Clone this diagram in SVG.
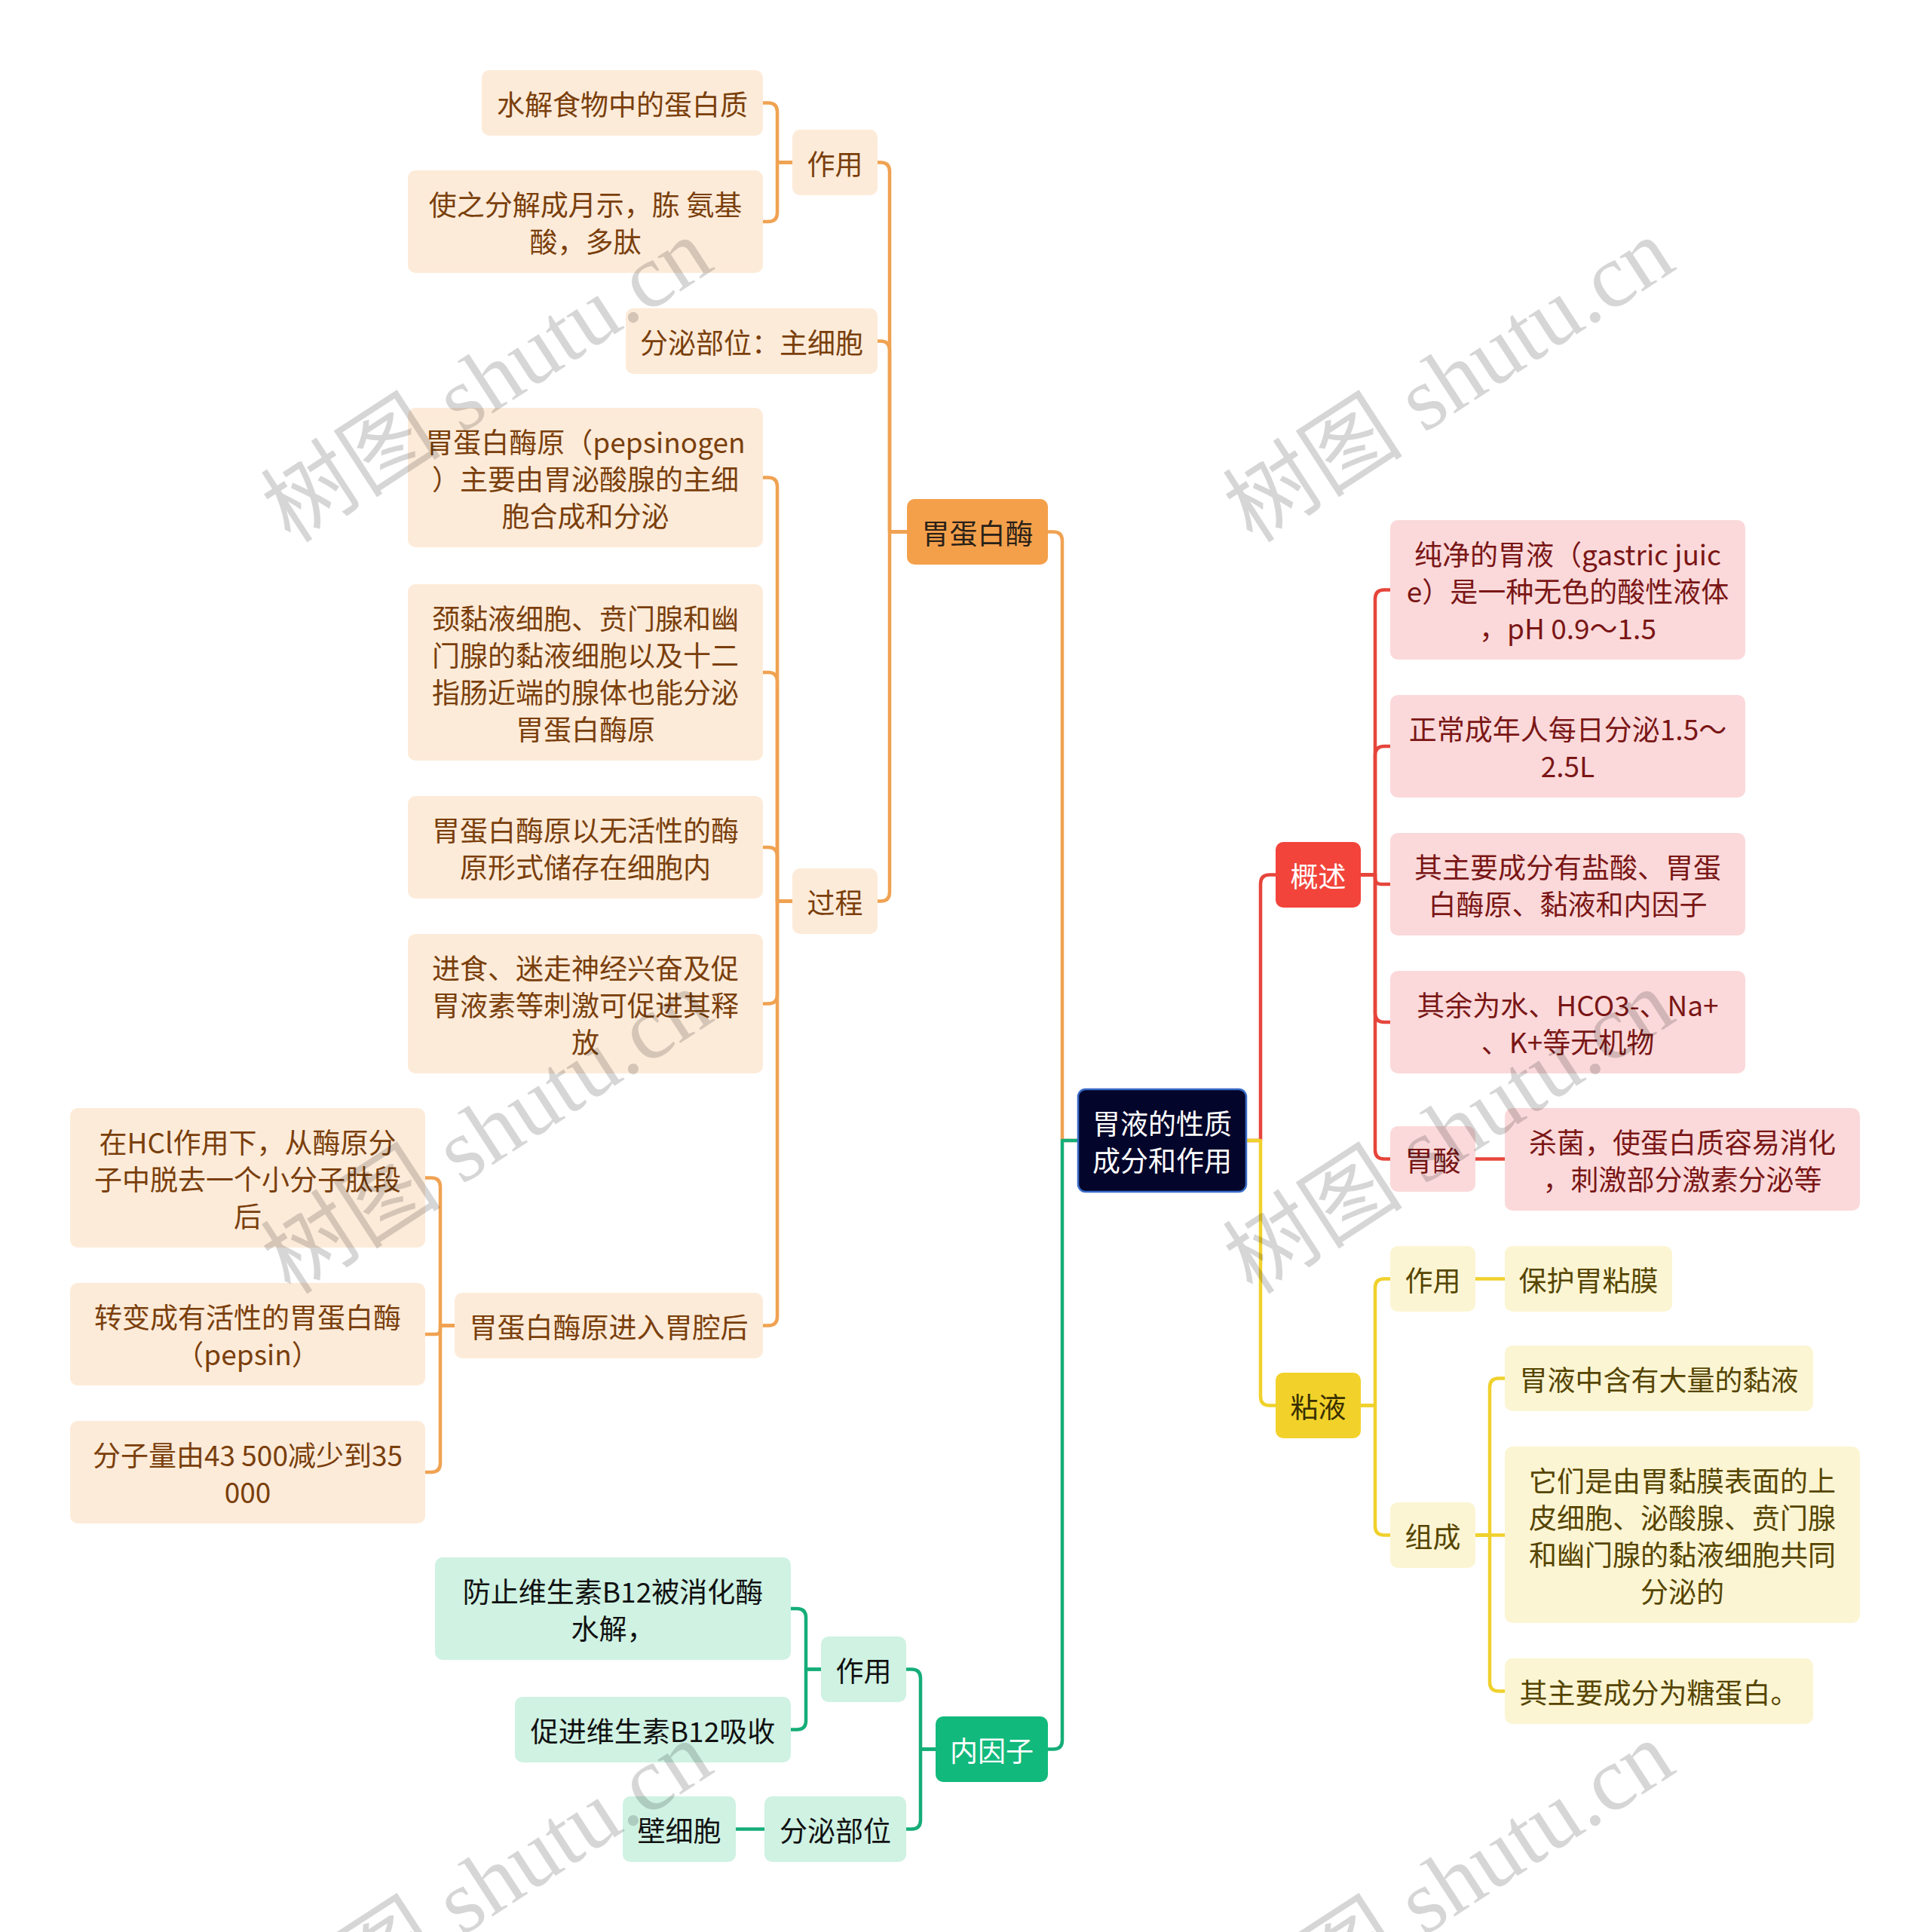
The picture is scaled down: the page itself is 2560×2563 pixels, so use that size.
<svg xmlns="http://www.w3.org/2000/svg" width="2560" height="2563" viewBox="0 0 2560 2563">
<style>
text{font-family:"Noto Sans CJK SC","Microsoft YaHei","Liberation Sans",sans-serif;font-size:37px;text-anchor:middle;dominant-baseline:central}
.c{fill:none;stroke-width:4.5;stroke-linecap:round;stroke-linejoin:round}
.co{stroke:#f0a252}.cr{stroke:#e6453b}.cy{stroke:#f0d12c}.cg{stroke:#15ad78}
.o1 rect{fill:#f4a04b}.o1 text{fill:#2a2118}
.o2 rect{fill:#fdebd9}.o2 text{fill:#7a3f0c}
.r1 rect{fill:#f2443b}.r1 text{fill:#ffffff}
.r2 rect{fill:#fbd9da}.r2 text{fill:#7a1616}
.y1 rect{fill:#f2d22a}.y1 text{fill:#3a3000}
.y2 rect{fill:#fcf5d3}.y2 text{fill:#564500}
.g1 rect{fill:#12b97c}.g1 text{fill:#ffffff}
.g2 rect{fill:#cff2e3}.g2 text{fill:#111111}
.root rect{fill:#04052b;stroke:#3a6cc8;stroke-width:2.5}.root text{fill:#ffffff}
.wm{font-family:"Liberation Serif","Noto Sans CJK SC",serif;font-size:120px;fill:#000000;fill-opacity:0.16}
</style>
<rect width="2560" height="2563" fill="#ffffff"/>
<g id="connectors">
<path class="c co" d="M1430 1513 H1409 V717.5 Q1409 705.5 1397 705.5 H1390"/>
<path class="c co" d="M1203 705.5 H1180 V227.5 Q1180 215.5 1168 215.5 H1164"/>
<path class="c co" d="M1203 705.5 H1180 V464.5 Q1180 452.5 1168 452.5 H1164"/>
<path class="c co" d="M1203 705.5 H1180 V1183.5 Q1180 1195.5 1168 1195.5 H1164"/>
<path class="c co" d="M1051 215.5 H1031 V148.5 Q1031 136.5 1019 136.5 H1012"/>
<path class="c co" d="M1051 215.5 H1031 V282 Q1031 294 1019 294 H1012"/>
<path class="c co" d="M1051 1195.5 H1031 V645.5 Q1031 633.5 1019 633.5 H1012"/>
<path class="c co" d="M1051 1195.5 H1031 V904 Q1031 892 1019 892 H1012"/>
<path class="c co" d="M1051 1195.5 H1031 V1136 Q1031 1124 1019 1124 H1012"/>
<path class="c co" d="M1051 1195.5 H1031 V1319.5 Q1031 1331.5 1019 1331.5 H1012"/>
<path class="c co" d="M1051 1195.5 H1031 V1746.5 Q1031 1758.5 1019 1758.5 H1012"/>
<path class="c co" d="M603 1758.5 H584 V1574.5 Q584 1562.5 572 1562.5 H564"/>
<path class="c co" d="M603 1758.5 H584 V1764 Q584 1770 578 1770 H564"/>
<path class="c co" d="M603 1758.5 H584 V1941 Q584 1953 572 1953 H564"/>
<path class="c cg" d="M1430 1513 H1409 V2308.5 Q1409 2320.5 1397 2320.5 H1390"/>
<path class="c cg" d="M1241 2320.5 H1221 V2226.5 Q1221 2214.5 1209 2214.5 H1202"/>
<path class="c cg" d="M1241 2320.5 H1221 V2414.5 Q1221 2426.5 1209 2426.5 H1202"/>
<path class="c cg" d="M1089 2214.5 H1069 V2146 Q1069 2134 1057 2134 H1049"/>
<path class="c cg" d="M1089 2214.5 H1069 V2282.5 Q1069 2294.5 1057 2294.5 H1049"/>
<path class="c cg" d="M1014 2426.5 H976"/>
<path class="c cr" d="M1653 1513 H1672 V1172.5 Q1672 1160.5 1684 1160.5 H1692"/>
<path class="c cr" d="M1805 1160.5 H1824 V794.5 Q1824 782.5 1836 782.5 H1844"/>
<path class="c cr" d="M1805 1160.5 H1824 V1002 Q1824 990 1836 990 H1844"/>
<path class="c cr" d="M1805 1160.5 H1824 V1165 Q1824 1173 1832 1173 H1844"/>
<path class="c cr" d="M1805 1160.5 H1824 V1344 Q1824 1356 1836 1356 H1844"/>
<path class="c cr" d="M1805 1160.5 H1824 V1525.5 Q1824 1537.5 1836 1537.5 H1844"/>
<path class="c cr" d="M1957 1537.5 H1996"/>
<path class="c cy" d="M1653 1513 H1672 V1852.5 Q1672 1864.5 1684 1864.5 H1692"/>
<path class="c cy" d="M1805 1864.5 H1824 V1708.5 Q1824 1696.5 1836 1696.5 H1844"/>
<path class="c cy" d="M1805 1864.5 H1824 V2024.5 Q1824 2036.5 1836 2036.5 H1844"/>
<path class="c cy" d="M1957 1696.5 H1996"/>
<path class="c cy" d="M1957 2036.5 H1976 V1840.5 Q1976 1828.5 1988 1828.5 H1996"/>
<path class="c cy" d="M1957 2036.5 H1996"/>
<path class="c cy" d="M1957 2036.5 H1976 V2231.5 Q1976 2243.5 1988 2243.5 H1996"/>
</g>
<g id="n-root" class="root"><rect x="1430" y="1445" width="223" height="136" rx="10"/><text><tspan x="1541.5" y="1488.5">胃液的性质</tspan><tspan x="1541.5" y="1537.5">成分和作用</tspan></text></g>
<g id="n-pepsin" class="o1"><rect x="1203" y="662" width="187" height="87" rx="10"/><text x="1296.5" y="705.5">胃蛋白酶</text></g>
<g id="n-p-zuoyong" class="o2"><rect x="1051" y="172" width="113" height="87" rx="10"/><text x="1107.5" y="215.5">作用</text></g>
<g id="n-p-shuijie" class="o2"><rect x="639" y="93" width="373" height="87" rx="10"/><text x="825.5" y="136.5">水解食物中的蛋白质</text></g>
<g id="n-p-fenjie" class="o2"><rect x="541" y="226" width="471" height="136" rx="10"/><text><tspan x="776.5" y="269.5">使之分解成月示，胨 氨基</tspan><tspan x="776.5" y="318.5">酸，多肽</tspan></text></g>
<g id="n-p-fenmi" class="o2"><rect x="830" y="409" width="334" height="87" rx="10"/><text x="997" y="452.5">分泌部位：主细胞</text></g>
<g id="n-p-guocheng" class="o2"><rect x="1051" y="1152" width="113" height="87" rx="10"/><text x="1107.5" y="1195.5">过程</text></g>
<g id="n-p-pepsinogen" class="o2"><rect x="541" y="541" width="471" height="185" rx="10"/><text><tspan x="776.5" y="584.5">胃蛋白酶原（pepsinogen</tspan><tspan x="776.5" y="633.5">）主要由胃泌酸腺的主细</tspan><tspan x="776.5" y="682.5">胞合成和分泌</tspan></text></g>
<g id="n-p-jing" class="o2"><rect x="541" y="775" width="471" height="234" rx="10"/><text><tspan x="776.5" y="818.5">颈黏液细胞、贲门腺和幽</tspan><tspan x="776.5" y="867.5">门腺的黏液细胞以及十二</tspan><tspan x="776.5" y="916.5">指肠近端的腺体也能分泌</tspan><tspan x="776.5" y="965.5">胃蛋白酶原</tspan></text></g>
<g id="n-p-wuhuoxing" class="o2"><rect x="541" y="1056" width="471" height="136" rx="10"/><text><tspan x="776.5" y="1099.5">胃蛋白酶原以无活性的酶</tspan><tspan x="776.5" y="1148.5">原形式储存在细胞内</tspan></text></g>
<g id="n-p-jinshi" class="o2"><rect x="541" y="1239" width="471" height="185" rx="10"/><text><tspan x="776.5" y="1282.5">进食、迷走神经兴奋及促</tspan><tspan x="776.5" y="1331.5">胃液素等刺激可促进其释</tspan><tspan x="776.5" y="1380.5">放</tspan></text></g>
<g id="n-p-jinru" class="o2"><rect x="603" y="1715" width="409" height="87" rx="10"/><text x="807.5" y="1758.5">胃蛋白酶原进入胃腔后</text></g>
<g id="n-p-hcl" class="o2"><rect x="93" y="1470" width="471" height="185" rx="10"/><text><tspan x="328.5" y="1513.5">在HCl作用下，从酶原分</tspan><tspan x="328.5" y="1562.5">子中脱去一个小分子肽段</tspan><tspan x="328.5" y="1611.5">后</tspan></text></g>
<g id="n-p-zhuanbian" class="o2"><rect x="93" y="1702" width="471" height="136" rx="10"/><text><tspan x="328.5" y="1745.5">转变成有活性的胃蛋白酶</tspan><tspan x="328.5" y="1794.5">（pepsin）</tspan></text></g>
<g id="n-p-fenziliang" class="o2"><rect x="93" y="1885" width="471" height="136" rx="10"/><text><tspan x="328.5" y="1928.5">分子量由43 500减少到35</tspan><tspan x="328.5" y="1977.5">000</tspan></text></g>
<g id="n-gaishu" class="r1"><rect x="1692" y="1117" width="113" height="87" rx="10"/><text x="1748.5" y="1160.5">概述</text></g>
<g id="n-r-chunjing" class="r2"><rect x="1844" y="690" width="471" height="185" rx="10"/><text><tspan x="2079.5" y="733.5">纯净的胃液（gastric juic</tspan><tspan x="2079.5" y="782.5">e）是一种无色的酸性液体</tspan><tspan x="2079.5" y="831.5">，pH 0.9～1.5</tspan></text></g>
<g id="n-r-zhengchang" class="r2"><rect x="1844" y="922" width="471" height="136" rx="10"/><text><tspan x="2079.5" y="965.5">正常成年人每日分泌1.5～</tspan><tspan x="2079.5" y="1014.5">2.5L</tspan></text></g>
<g id="n-r-zhuyao" class="r2"><rect x="1844" y="1105" width="471" height="136" rx="10"/><text><tspan x="2079.5" y="1148.5">其主要成分有盐酸、胃蛋</tspan><tspan x="2079.5" y="1197.5">白酶原、黏液和内因子</tspan></text></g>
<g id="n-r-qiyu" class="r2"><rect x="1844" y="1288" width="471" height="136" rx="10"/><text><tspan x="2079.5" y="1331.5">其余为水、HCO3-、Na+</tspan><tspan x="2079.5" y="1380.5">、K+等无机物</tspan></text></g>
<g id="n-r-weisuan" class="r2"><rect x="1844" y="1494" width="113" height="87" rx="10"/><text x="1900.5" y="1537.5">胃酸</text></g>
<g id="n-r-shajun" class="r2"><rect x="1996" y="1470" width="471" height="136" rx="10"/><text><tspan x="2231.5" y="1513.5">杀菌，使蛋白质容易消化</tspan><tspan x="2231.5" y="1562.5">，刺激部分激素分泌等</tspan></text></g>
<g id="n-nianye" class="y1"><rect x="1692" y="1821" width="113" height="87" rx="10"/><text x="1748.5" y="1864.5">粘液</text></g>
<g id="n-y-zuoyong" class="y2"><rect x="1844" y="1653" width="113" height="87" rx="10"/><text x="1900.5" y="1696.5">作用</text></g>
<g id="n-y-baohu" class="y2"><rect x="1996" y="1653" width="222" height="87" rx="10"/><text x="2107" y="1696.5">保护胃粘膜</text></g>
<g id="n-y-zucheng" class="y2"><rect x="1844" y="1993" width="113" height="87" rx="10"/><text x="1900.5" y="2036.5">组成</text></g>
<g id="n-y-hanyou" class="y2"><rect x="1996" y="1785" width="409" height="87" rx="10"/><text x="2200.5" y="1828.5">胃液中含有大量的黏液</text></g>
<g id="n-y-tamen" class="y2"><rect x="1996" y="1919" width="471" height="234" rx="10"/><text><tspan x="2231.5" y="1962.5">它们是由胃黏膜表面的上</tspan><tspan x="2231.5" y="2011.5">皮细胞、泌酸腺、贲门腺</tspan><tspan x="2231.5" y="2060.5">和幽门腺的黏液细胞共同</tspan><tspan x="2231.5" y="2109.5">分泌的</tspan></text></g>
<g id="n-y-tangdanbai" class="y2"><rect x="1996" y="2200" width="409" height="87" rx="10"/><text x="2200.5" y="2243.5">其主要成分为糖蛋白。</text></g>
<g id="n-neiyinzi" class="g1"><rect x="1241" y="2277" width="149" height="87" rx="10"/><text x="1315.5" y="2320.5">内因子</text></g>
<g id="n-g-zuoyong" class="g2"><rect x="1089" y="2171" width="113" height="87" rx="10"/><text x="1145.5" y="2214.5">作用</text></g>
<g id="n-g-fangzhi" class="g2"><rect x="577" y="2066" width="472" height="136" rx="10"/><text><tspan x="813" y="2109.5">防止维生素B12被消化酶</tspan><tspan x="813" y="2158.5">水解，</tspan></text></g>
<g id="n-g-cujin" class="g2"><rect x="683" y="2251" width="366" height="87" rx="10"/><text x="866" y="2294.5">促进维生素B12吸收</text></g>
<g id="n-g-fenmi" class="g2"><rect x="1014" y="2383" width="188" height="87" rx="10"/><text x="1108" y="2426.5">分泌部位</text></g>
<g id="n-g-bixibao" class="g2"><rect x="826" y="2383" width="150" height="87" rx="10"/><text x="901" y="2426.5">壁细胞</text></g>
<g id="watermarks">
<text class="wm" x="646" y="505" transform="rotate(-33 646 505)">树图 shutu.cn</text>
<text class="wm" x="1922" y="505" transform="rotate(-33 1922 505)">树图 shutu.cn</text>
<text class="wm" x="646" y="1502" transform="rotate(-33 646 1502)">树图 shutu.cn</text>
<text class="wm" x="1922" y="1502" transform="rotate(-33 1922 1502)">树图 shutu.cn</text>
<text class="wm" x="646" y="2499" transform="rotate(-33 646 2499)">树图 shutu.cn</text>
<text class="wm" x="1922" y="2499" transform="rotate(-33 1922 2499)">树图 shutu.cn</text>
</g>
</svg>
